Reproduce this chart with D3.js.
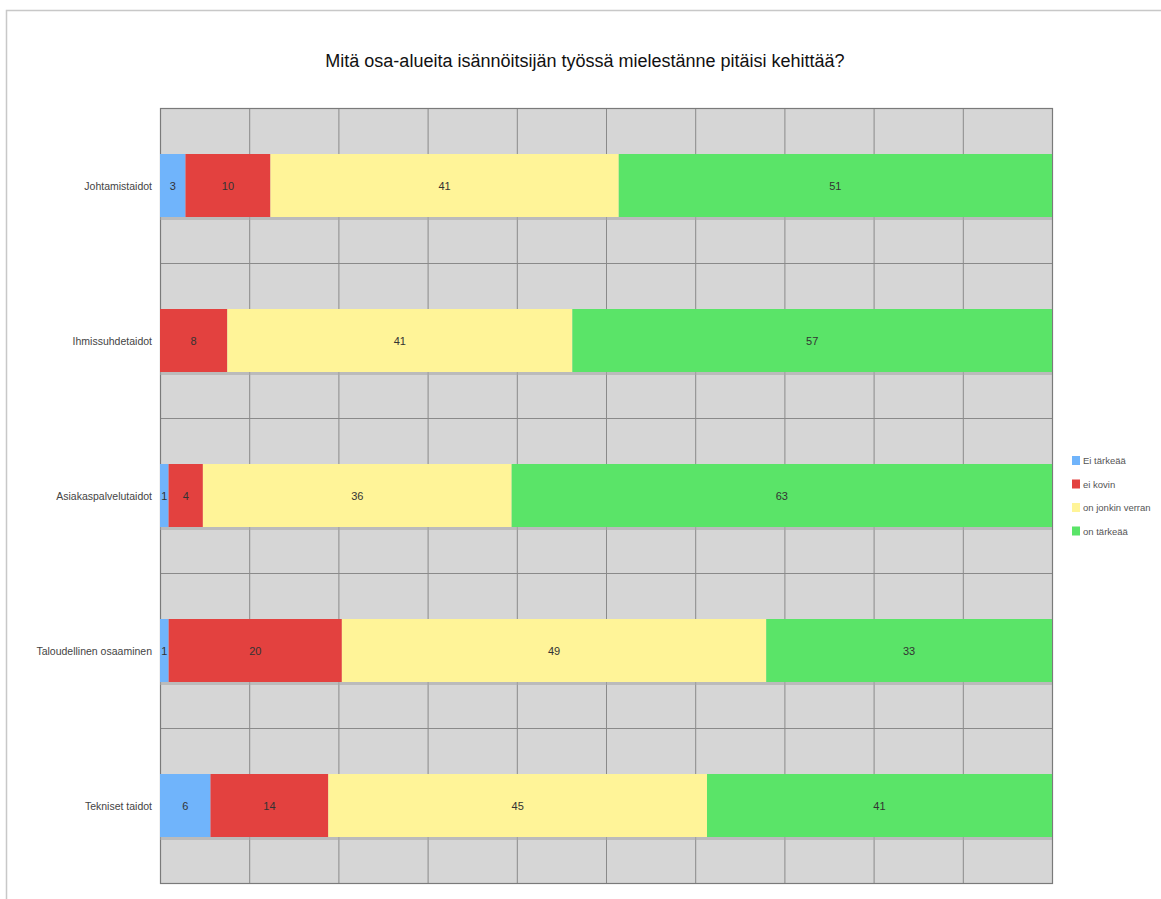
<!DOCTYPE html>
<html>
<head>
<meta charset="utf-8">
<script src="https://cdn.jsdelivr.net/npm/d3@7"></script>
<style>
  html, body { margin: 0; padding: 0; background: #fff; }
  svg { display: block; }
</style>
</head>
<body>
<svg id="chart" width="1161" height="899"></svg>
<script>
// Survey answers per skill area (counts), stacked to 100 %
const categories = ["Johtamistaidot", "Ihmissuhdetaidot", "Asiakaspalvelutaidot", "Taloudellinen osaaminen", "Tekniset taidot"];
const seriesNames = ["Ei tärkeää", "ei kovin", "on jonkin verran", "on tärkeää"];
const eiTarkeaa   = [3, 0, 1, 1, 6];
const eiKovin     = [10, 8, 4, 20, 14];
const jonkinVerran = [41, 41, 36, 49, 45];
const onTarkeaa   = [51, 57, 63, 33, 41];
const gridTicks = [0, 0.1, 0.2, 0.3, 0.4, 0.5, 0.6, 0.7, 0.8, 0.9, 1];
const title = "Mitä osa-alueita isännöitsijän työssä mielestänne pitäisi kehittää?";

const colors = ["#70b4fb", "#e3413f", "#fff498", "#5ae468"];
const seriesValues = [eiTarkeaa, eiKovin, jonkinVerran, onTarkeaa];

const rows = categories.map((c, i) => {
  const r = { category: c };
  seriesNames.forEach((s, k) => { r[s] = seriesValues[k][i]; });
  return r;
});

const stack = d3.stack().keys(seriesNames).offset(d3.stackOffsetExpand);
const stacked = stack(rows);

const svg = d3.select("#chart");
const plot = { left: 160, right: 1052, top: 108, bottom: 883 };

// outer frame
svg.append("path")
  .attr("d", "M6.5,899 L6.5,10.5 L1161,10.5")
  .attr("fill", "none").attr("stroke", "#c8c8c8").attr("stroke-width", 1.5);

svg.append("text")
  .attr("x", 585).attr("y", 67)
  .attr("text-anchor", "middle")
  .attr("font-family", "Liberation Sans, Arial, sans-serif")
  .attr("font-size", 18)
  .attr("fill", "#111")
  .text(title);

const x = d3.scaleLinear().domain([0, 1]).range([plot.left, plot.right]);
const y = d3.scaleBand().domain(categories).range([plot.top, plot.bottom]).paddingInner(0).paddingOuter(0);

// plot background
svg.append("rect")
  .attr("x", plot.left).attr("y", plot.top)
  .attr("width", plot.right - plot.left).attr("height", plot.bottom - plot.top)
  .attr("fill", "#d6d6d6");

// vertical grid
svg.append("g").selectAll("line").data(gridTicks).join("line")
  .attr("x1", d => x(d) + 0.5).attr("x2", d => x(d) + 0.5)
  .attr("y1", plot.top).attr("y2", plot.bottom)
  .attr("stroke", "#8a8a8a").attr("stroke-width", 1);

// horizontal grid at band boundaries
const bounds = categories.map(c => y(c)).concat([plot.bottom]);
svg.append("g").selectAll("line").data(bounds).join("line")
  .attr("x1", plot.left).attr("x2", plot.right)
  .attr("y1", d => Math.round(d) + 0.5).attr("y2", d => Math.round(d) + 0.5)
  .attr("stroke", "#8a8a8a").attr("stroke-width", 1);

// plot border
svg.append("rect")
  .attr("x", plot.left + 0.5).attr("y", plot.top + 0.5)
  .attr("width", plot.right - plot.left).attr("height", plot.bottom - plot.top)
  .attr("fill", "none").attr("stroke", "#7a7a7a").attr("stroke-width", 1.2);

const barH = 63;
const barY = c => y(c) + y.bandwidth() / 2 - barH / 2;

// soft shadow under each bar
svg.append("g").selectAll("rect").data(categories).join("rect")
  .attr("x", plot.left).attr("y", c => barY(c) + barH)
  .attr("width", plot.right - plot.left).attr("height", 3)
  .attr("fill", "#a8a8a8").attr("opacity", 0.6);

const layers = svg.append("g").selectAll("g").data(stacked).join("g")
  .attr("fill", (d, i) => colors[i]);

layers.selectAll("rect").data(d => d.filter(p => p[1] > p[0])).join("rect")
  .attr("x", p => x(p[0]))
  .attr("y", p => barY(p.data.category))
  .attr("width", p => x(p[1]) - x(p[0]))
  .attr("height", barH);

// value labels
stacked.forEach((layer, k) => {
  svg.append("g").selectAll("text").data(layer.filter(p => p[1] > p[0])).join("text")
    .attr("x", p => (x(p[0]) + x(p[1])) / 2)
    .attr("y", p => barY(p.data.category) + barH / 2 + 4)
    .attr("text-anchor", "middle")
    .attr("font-family", "Liberation Sans Narrow, Liberation Sans, Arial, sans-serif")
    .attr("font-size", 11)
    .attr("fill", "#333")
    .text(p => p.data[layer.key]);
});

// category labels
svg.append("g").selectAll("text").data(categories).join("text")
  .attr("x", 152)
  .attr("y", c => barY(c) + barH / 2 + 4)
  .attr("text-anchor", "end")
  .attr("font-family", "Liberation Sans Narrow, Liberation Sans, Arial, sans-serif")
  .attr("font-size", 10.5)
  .attr("fill", "#444")
  .text(c => c);

// legend
const legend = svg.append("g").attr("transform", "translate(1072,456)");
seriesNames.forEach((s, i) => {
  const g = legend.append("g").attr("transform", `translate(0,${i * 23.5})`);
  g.append("rect").attr("x", 0).attr("y", 0).attr("width", 8).attr("height", 9).attr("fill", colors[i]);
  g.append("text").attr("x", 11).attr("y", 8)
    .attr("font-family", "Liberation Sans Narrow, Liberation Sans, Arial, sans-serif")
    .attr("font-size", 9.5).attr("fill", "#555").text(s);
});
</script>
</body>
</html>
